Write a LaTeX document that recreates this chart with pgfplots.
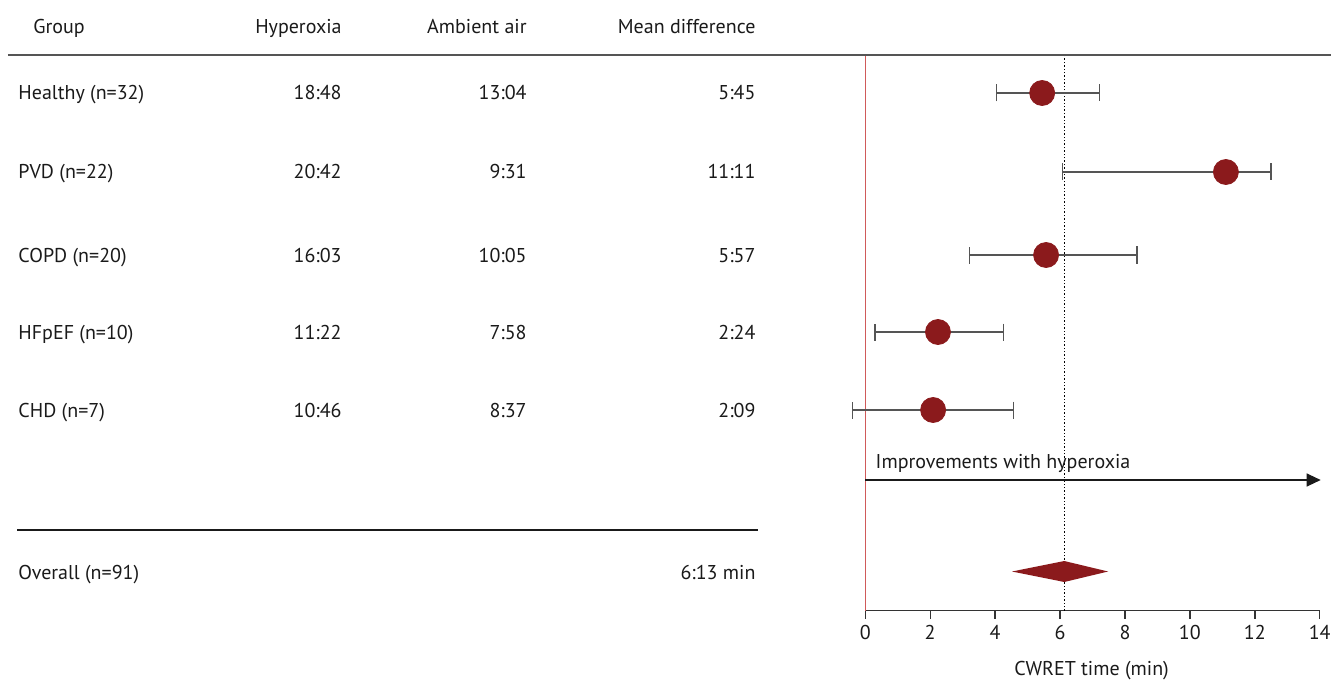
\documentclass[border=0pt]{standalone}
\usepackage{fontspec}
\setmainfont{PT Sans}
\usepackage{pgfplots}
\pgfplotsset{compat=1.18}
\usetikzlibrary{arrows.meta}
\definecolor{dred}{HTML}{8B1A1C}
\definecolor{lred}{HTML}{D05A5A}
\definecolor{gline}{HTML}{555555}
\definecolor{aline}{HTML}{333333}
\definecolor{txt}{HTML}{1A1A1A}
\begin{document}
\begin{tikzpicture}[font=\fontsize{10}{12}\selectfont]
\begin{axis}[x=16.23pt, y=0.5pt, xmin=0, xmax=14, ymin=70.3, ymax=626, clip=false,
  axis x line=bottom, axis y line=none, x axis line style={-, aline, line width=0.7pt},
  xtick={0,2,...,14}, ytick=\empty, tick align=outside, major tick length=3.9pt,
  tick style={aline, line width=0.7pt},
  xticklabel style={font=\fontsize{10}{12}\selectfont, text=txt},
  /pgf/number format/assume math mode=true]
% bounding box corners
\coordinate (BL) at (axis cs:-26.657,0);
\coordinate (TR) at (axis cs:14.347,681);
% reference lines
\draw[draw=lred, line width=0.75pt] (axis cs:0,70.3) -- (axis cs:0,626);
\addplot[color=black, densely dotted, line width=0.7pt, forget plot] coordinates {(6.13,70.3) (6.13,626)};
% table rules
\draw[gline, line width=1pt] (axis cs:-26.41,626) -- (axis cs:14.347,626);
\draw[txt, line width=0.7pt] (axis cs:-26.13,151) -- (axis cs:-3.31,151);
% arrow
\draw[txt, line width=0.6pt, -{Triangle[length=7pt,width=6.5pt]}] (axis cs:0,201) -- (axis cs:14.03,201);
\node[anchor=west, inner sep=0pt, text=txt, text height=7pt, text depth=0pt] at (axis cs:0.31,220) {Improvements with hyperoxia};
% error bars
\addplot[forget plot, draw=none, mark=none,
  error bars/.cd, x dir=both, x explicit,
  error bar style={draw=gline, solid, line width=0.6pt},
  error mark options={rotate=90, mark size=4.25pt, line width=0.6pt, draw=gline, solid}]
coordinates {
(5.45,588) += (1.77,0) -= (1.40,0)
(11.11,509) += (1.39,0) -= (5.03,0)
(5.57,426) += (2.80,0) -= (2.37,0)
(2.24,349) += (2.03,0) -= (1.94,0)
(2.09,271) += (2.48,0) -= (2.48,0)
};
% point estimates
\addplot[only marks, mark=*, mark size=6.25pt, mark options={draw=dred, fill=dred}]
coordinates {(5.45,588) (11.11,509) (5.57,426) (2.24,349) (2.09,271)};
% overall diamond
\addplot[fill=dred, draw=none] coordinates {(4.52,109.5) (6.13,120) (7.48,109.5) (6.13,99)} -- cycle;
% table text
\begin{scope}[every node/.style={text=txt, inner sep=0pt, text height=7pt, text depth=0pt}]
\node[anchor=west] at (axis cs:-25.64,654) {Group};
\node[anchor=east] at (axis cs:-16.12,654) {Hyperoxia};
\node[anchor=east] at (axis cs:-10.42,654) {Ambient air};
\node[anchor=east] at (axis cs:-3.37,654) {Mean difference};
\node[anchor=west] at (axis cs:-26.10,588) {Healthy (n=32)};
\node[anchor=east] at (axis cs:-16.12,588) {18:48};
\node[anchor=east] at (axis cs:-10.42,588) {13:04};
\node[anchor=east] at (axis cs:-3.37,588) {5:45};
\node[anchor=west] at (axis cs:-26.10,509) {PVD (n=22)};
\node[anchor=east] at (axis cs:-16.12,509) {20:42};
\node[anchor=east] at (axis cs:-10.42,509) {9:31};
\node[anchor=east] at (axis cs:-3.37,509) {11:11};
\node[anchor=west] at (axis cs:-26.10,426) {COPD (n=20)};
\node[anchor=east] at (axis cs:-16.12,426) {16:03};
\node[anchor=east] at (axis cs:-10.42,426) {10:05};
\node[anchor=east] at (axis cs:-3.37,426) {5:57};
\node[anchor=west] at (axis cs:-26.10,349) {HFpEF (n=10)};
\node[anchor=east] at (axis cs:-16.12,349) {11:22};
\node[anchor=east] at (axis cs:-10.42,349) {7:58};
\node[anchor=east] at (axis cs:-3.37,349) {2:24};
\node[anchor=west] at (axis cs:-26.10,271) {CHD (n=7)};
\node[anchor=east] at (axis cs:-16.12,271) {10:46};
\node[anchor=east] at (axis cs:-10.42,271) {8:37};
\node[anchor=east] at (axis cs:-3.37,271) {2:09};
\node[anchor=west] at (axis cs:-26.10,109) {Overall (n=91)};
\node[anchor=east] at (axis cs:-3.37,109) {6:13 min};
\node at (axis cs:6.97,13) {CWRET time (min)};
\end{scope}
\end{axis}
\pgfresetboundingbox
\path[use as bounding box] (BL) rectangle (TR);
\end{tikzpicture}
\end{document}
